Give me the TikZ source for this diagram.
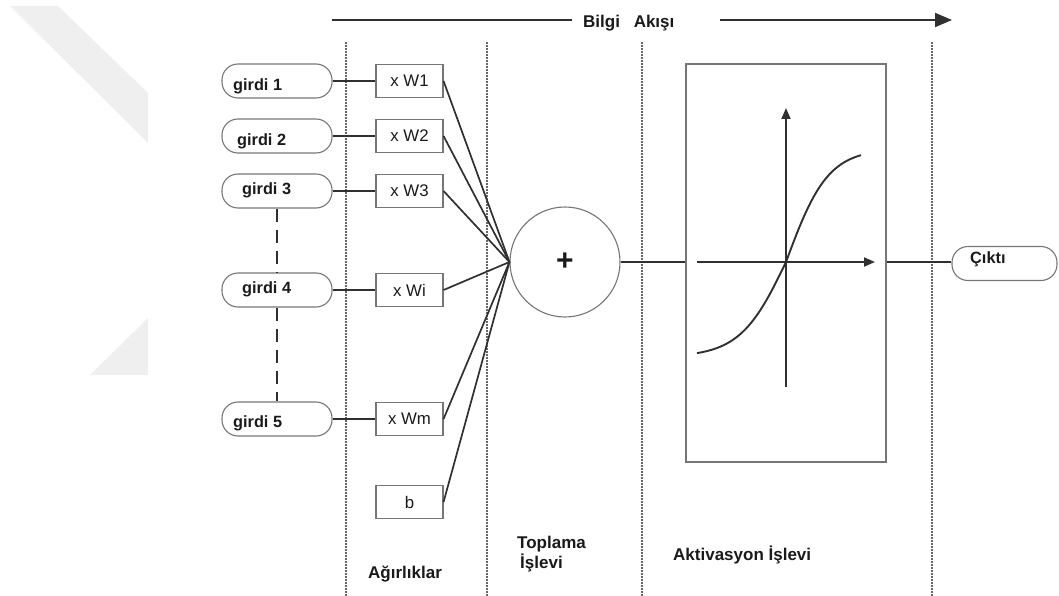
\documentclass[tikz,border=0pt]{standalone}
\usepackage{fontspec}
\setmainfont{Liberation Sans}
\usetikzlibrary{arrows.meta}
\definecolor{conncol}{HTML}{303030}
\definecolor{boxcol}{HTML}{767676}
\definecolor{sepcol}{HTML}{666666}
\definecolor{wmcol}{HTML}{EFEFEF}
\definecolor{txtcol}{HTML}{1A1A1A}
\begin{document}
\begin{tikzpicture}[x=1pt,y=-1pt,
  conn/.style={draw=conncol,line width=1.9pt},
  pill/.style={draw=boxcol,line width=1.1pt,rounded corners=16pt,minimum width=110pt,minimum height=34pt,inner sep=0pt},
  wbox/.style={draw=boxcol,line width=1.1pt,minimum width=67pt,minimum height=33pt,inner sep=0pt,text=txtcol,font=\fontsize{16.8}{17}\selectfont},
  lbl/.style={inner sep=0pt,anchor=base west,text=txtcol,font=\fontsize{17}{20}\selectfont\bfseries},
  sep/.style={draw=sepcol,line width=1.4pt,dash pattern=on 1.6pt off 1.4pt},
  vdash/.style={draw=conncol,line width=1.9pt,dash pattern=on 13pt off 8pt},
  axisline/.style={draw=conncol,line width=1.9pt,-{Triangle[length=11pt,width=9pt]}}
]
\useasboundingbox (0,0) rectangle (1059,596);
% faint background shapes
\fill[wmcol] (10,6) -- (58,6) -- (148,93) -- (148,143) -- cycle;
\fill[wmcol] (90,375) -- (148,375) -- (148,318) -- cycle;

% dotted separators
\foreach \sx/\nm in {346/s1,487/s2,642/s3,932/s4}{
  \coordinate (\nm a) at (\sx,42);
  \coordinate (\nm b) at (\sx,596);
  \draw[sep] (\nm a) -- (\nm b);
}

% information flow arrow
\coordinate (f0) at (332,20);
\coordinate (f1) at (572,20);
\coordinate (f2) at (720,20);
\coordinate (f3) at (952,20);
\draw[conn] (f0) -- (f1);
\draw[conn,-{Triangle[length=17pt,width=14pt]}] (f2) -- (f3);
\node[lbl] (flow) at (583,27.3) {Bilgi \hspace{9pt}Akışı};

% inputs
\node[pill] (g1) at (277,81) {};
\node[pill] (g2) at (277,136) {};
\node[pill] (g3) at (277,191) {};
\node[pill] (g4) at (277,290) {};
\node[pill] (g5) at (277,419) {};
\node[lbl,font=\fontsize{16.3}{16}\selectfont\bfseries] (t1) at (233,90.5) {girdi 1};
\node[lbl,font=\fontsize{16.3}{16}\selectfont\bfseries] (t2) at (237,145.5) {girdi 2};
\node[lbl,font=\fontsize{16.3}{16}\selectfont\bfseries] (t3) at (242,194) {girdi 3};
\node[lbl,font=\fontsize{16.3}{16}\selectfont\bfseries] (t4) at (242,293) {girdi 4};
\node[lbl,font=\fontsize{16.3}{16}\selectfont\bfseries] (t5) at (233,427.5) {girdi 5};
\draw[vdash] (g3.south) -- (g4.north);
\draw[vdash] (g4.south) -- (g5.north);

% weights
\node[wbox] (w1) at (409.5,81) {x W1};
\node[wbox] (w2) at (409.5,136) {x W2};
\node[wbox] (w3) at (409.5,191) {x W3};
\node[wbox] (wi) at (409.5,290) {x Wi};
\node[wbox] (wm) at (409.5,419) {x Wm};
\node[wbox] (wb) at (409.5,502) {b};
\draw[conn] (g1.east) -- (w1.west);
\draw[conn] (g2.east) -- (w2.west);
\draw[conn] (g3.east) -- (w3.west);
\draw[conn] (g4.east) -- (wi.west);
\draw[conn] (g5.east) -- (wm.west);

% summation
\node[circle,draw=boxcol,line width=1.1pt,minimum size=110pt,inner sep=0pt,text=txtcol,font=\fontsize{30}{30}\selectfont\bfseries] (sum) at (565,262) {+};
\foreach \w in {w1,w2,w3,wi,wm,wb}{
  \draw[conn,line width=1.7pt] (\w.east) -- (sum.west);
}

% activation
\node[draw=boxcol,line width=1.1pt,minimum width=200pt,minimum height=398pt,inner sep=0pt] (act) at (786,263) {};
\draw[conn] (sum.east) -- (sum.east -| act.west);
\coordinate (ax0) at (697,262);
\coordinate (ax1) at (875,262);
\coordinate (ay0) at (786,387);
\coordinate (ay1) at (786,108);
\draw[axisline] (ax0) -- (ax1);
\draw[axisline] (ay0) -- (ay1);
\draw[conncol,line width=1.9pt] plot[domain=-89:0,samples=50,smooth] ({786+\x},{262+95*tanh(-\x/46)})
  -- plot[domain=0:75,samples=50,smooth] ({786+\x},{262-113*tanh(\x/42)});

% output
\node[pill,minimum width=105pt] (out) at (1004.5,263.5) {};
\draw[conn] (act.east |- sum.east) -- (out.west |- sum.east);
\node[lbl,font=\fontsize{16.3}{16}\selectfont\bfseries] (tout) at (970,263) {Çıktı};

% bottom labels
\node[lbl] (lab1) at (368,578) {Ağırlıklar};
\node[lbl,align=left] (lab2) at (517,568) {Toplama\\\hspace*{3pt}İşlevi};
\node[lbl] (lab3) at (673,560.5) {Aktivasyon İşlevi};
\end{tikzpicture}
\end{document}
